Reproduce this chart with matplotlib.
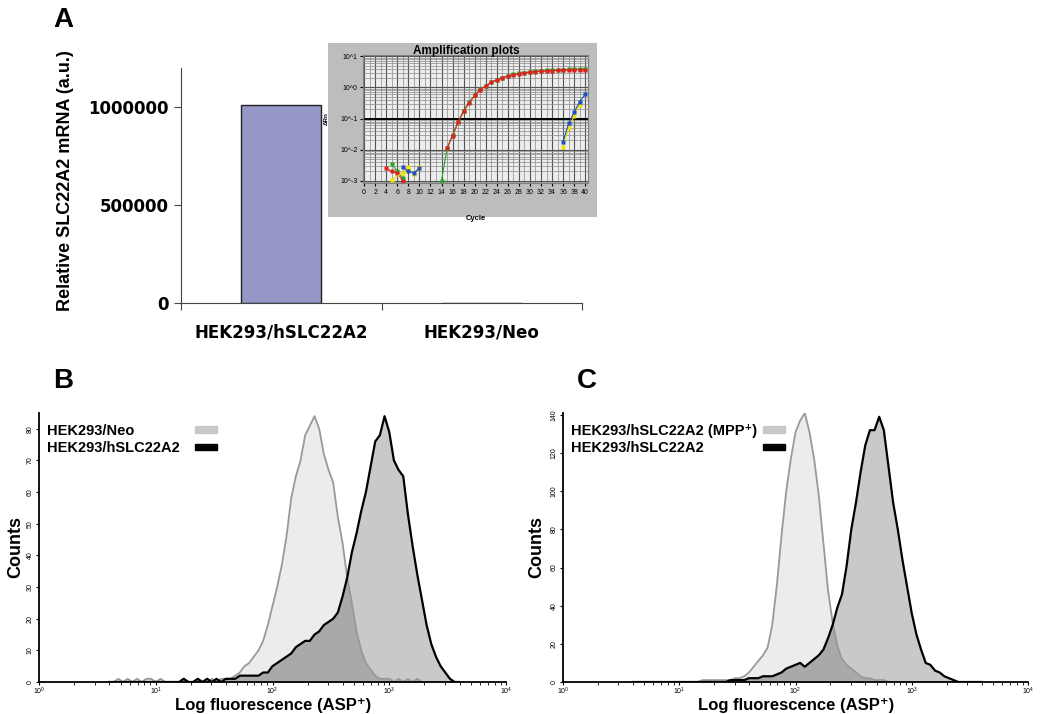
import numpy as np
import matplotlib.pyplot as plt
from matplotlib.patches import Rectangle
from matplotlib.ticker import FixedLocator, NullFormatter, LogLocator

plt.rcParams['font.family'] = ['Liberation Sans', 'DejaVu Sans']

# ---------------- data ----------------
# panel A: relative mRNA
cell_lines = ['HEK293/hSLC22A2', 'HEK293/Neo']
mrna_level = [1010000, 0]

# inset: amplification plot (cycle, delta Rn)
red_early_cyc = [4, 5, 6, 7]
red_early_val = [0.0025, 0.0020, 0.0018, 0.0010]
green_early_cyc = [5, 6, 7]
green_early_val = [0.0035, 0.0020, 0.00125]
yellow_early_cyc = [5, 7, 8, 9, 10]
yellow_early_val = [0.0011, 0.0018, 0.0028, 0.0016, 0.0028]
blue_early_cyc = [7, 8, 9, 10]
blue_early_val = [0.0028, 0.0020, 0.0018, 0.0025]

red_cyc = list(range(15, 41))
red_val = [0.011, 0.028, 0.075, 0.17, 0.32, 0.55, 0.85, 1.12, 1.45, 1.75, 2.05,
           2.3, 2.55, 2.75, 2.95, 3.1, 3.2, 3.3, 3.35, 3.45, 3.5, 3.55, 3.6,
           3.65, 3.7, 3.7]
green_cyc = list(range(14, 41))
green_val = [0.001, 0.011, 0.03, 0.078, 0.18, 0.33, 0.56, 0.86, 1.13, 1.46, 1.77,
             2.07, 2.33, 2.6, 2.8, 3.0, 3.15, 3.3, 3.4, 3.5, 3.6, 3.7, 3.75, 3.8,
             3.85, 3.9, 3.9]
blue_late_cyc = [36, 37, 38, 39, 40]
blue_late_val = [0.018, 0.07, 0.16, 0.35, 0.6]
yellow_late_cyc = [36, 37, 38, 39]
yellow_late_val = [0.012, 0.05, 0.12, 0.28]

# flow cytometry histograms, channels on log10 scale 0.60 .. 3.60 (step 0.04)
log_channels = np.round(np.arange(0.60, 3.6001, 0.04), 2)

neo_counts_b = [0, 0, 1, 0, 1, 0, 1, 0, 1, 1,
                0, 1, 0, 0, 0, 0, 1, 0, 0, 1,
                0, 0, 1, 0, 1, 1, 1, 2, 3, 5,
                6, 8, 10, 13, 18, 24, 30, 37, 46, 58,
                65, 70, 78, 81, 84, 80, 72, 67, 63, 52,
                44, 33, 25, 16, 10, 6, 4, 2, 1, 1,
                1, 0, 1, 0, 1, 0, 1, 0, 0, 0,
                0, 0, 0, 0, 0, 0]
slc_counts_b = [0, 0, 0, 0, 0, 0, 0, 0, 0, 0,
                0, 0, 0, 0, 0, 0, 1, 0, 0, 1,
                0, 1, 0, 1, 0, 1, 1, 1, 2, 2,
                2, 2, 2, 3, 3, 5, 6, 7, 8, 9,
                11, 12, 13, 13, 15, 16, 18, 19, 20, 22,
                27, 33, 41, 47, 54, 60, 68, 76, 78, 84,
                79, 70, 67, 65, 53, 43, 34, 26, 18, 12,
                8, 5, 3, 1, 0, 0]

mpp_counts_c = [0, 0, 0, 0, 0, 0, 0, 0, 0, 0,
                0, 0, 0, 0, 0, 1, 1, 1, 1, 1,
                1, 1, 2, 2, 3, 5, 8, 11, 14, 18,
                30, 51, 77, 100, 117, 131, 137, 141, 131, 117,
                98, 73, 48, 31, 19, 12, 9, 7, 5, 3,
                2, 2, 1, 1, 1, 0, 0, 0, 0, 0,
                0, 0, 0, 0, 0, 0, 0, 0, 0, 0,
                0, 0, 0, 0, 0, 0]
slc_counts_c = [0, 0, 0, 0, 0, 0, 0, 0, 0, 0,
                0, 0, 0, 0, 0, 0, 0, 0, 0, 0,
                0, 1, 1, 1, 1, 2, 2, 2, 3, 3,
                3, 4, 5, 7, 8, 9, 10, 8, 10, 12,
                14, 17, 23, 30, 39, 46, 61, 80, 94, 110,
                124, 132, 132, 139, 132, 113, 94, 80, 64, 50,
                36, 25, 17, 10, 9, 6, 5, 3, 2, 1,
                0, 0, 0, 0, 0, 0]

W, H = 1040, 714
fig = plt.figure(figsize=(W / 100, H / 100), dpi=100)


def fbox(x0, y0, x1, y1):
    # pixel box -> figure fraction [left, bottom, width, height]
    return [x0 / W, 1 - y1 / H, (x1 - x0) / W, (y1 - y0) / H]


# ---------------- panel A ----------------
axA = fig.add_axes(fbox(181, 68, 582, 303))
axA.bar(range(len(cell_lines)), mrna_level, width=0.4, color='#9597c6',
        edgecolor='#222222', linewidth=1.0)
axA.set_xlim(-0.5, 1.5)
axA.set_ylim(0, 1200000)
axA.set_yticks([0, 500000, 1000000])
axA.set_yticklabels(['0', '500000', '1000000'], family='DejaVu Sans',
                    fontweight='bold', fontsize=12)
axA.set_xticks([-0.5, 0.5, 1.5])
axA.set_xticklabels([])
axA.set_xticks([0, 1], minor=True)
axA.set_xticklabels(cell_lines, minor=True, family='DejaVu Sans',
                    fontweight='bold', fontsize=12)
axA.tick_params(axis='x', which='minor', length=0, pad=15)
axA.tick_params(axis='x', which='major', length=5, color='#444444')
axA.tick_params(axis='y', length=5, color='#444444', pad=4)
for s in ['top', 'right']:
    axA.spines[s].set_visible(False)
for s in ['left', 'bottom']:
    axA.spines[s].set_color('#444444')
fig.text(66 / W, 1 - 181 / H, 'Relative SLC22A2 mRNA (a.u.)', rotation=90,
         ha='center', va='center', fontsize=13, fontweight='bold')

# inset amplification plot
axF = fig.add_axes(fbox(328, 43, 597, 217))
axF.set_facecolor('#bdbdbd')
axF.set_xticks([])
axF.set_yticks([])
for s in axF.spines.values():
    s.set_visible(False)

axI = fig.add_axes(fbox(363, 55, 588, 183))
axI.set_facecolor('#ededed')
axI.set_yscale('log')
axI.set_xlim(-0.2, 40.5)
axI.set_ylim(8.5e-4, 11)
axI.set_xticks(range(0, 41, 2))
axI.set_xticks(range(0, 41), minor=True)
axI.yaxis.set_major_locator(FixedLocator([1e-3, 1e-2, 1e-1, 1, 10]))
axI.yaxis.set_minor_locator(LogLocator(subs=np.arange(2, 10)))
axI.yaxis.set_minor_formatter(NullFormatter())
axI.set_yticklabels(['10^-3', '10^-2', '10^-1', '10^0', '10^1'])
axI.tick_params(labelsize=5, length=2, pad=2)
axI.tick_params(which='minor', length=0)
axI.grid(True, which='major', color='#555555', linewidth=0.8)
axI.grid(True, which='minor', color='#8a8a8a', linewidth=0.5)
for s in axI.spines.values():
    s.set_color('#808080')
axI.axhline(0.1, color='black', linewidth=1.4)

mk = dict(marker='s', markersize=3.5, linewidth=0.8)
axI.plot(green_cyc, green_val, color='#22aa22', markeredgecolor='none', **mk)
axI.plot(red_cyc, red_val, color='#dd2020', markeredgecolor='none', **mk)
axI.plot(green_early_cyc, green_early_val, color='#22aa22', markeredgecolor='none', **mk)
axI.plot(red_early_cyc, red_early_val, color='#dd2020', markeredgecolor='none', **mk)
axI.plot(yellow_early_cyc, yellow_early_val, color='#f2e200', markeredgecolor='none', **mk)
axI.plot(blue_early_cyc, blue_early_val, color='#2050c0', markeredgecolor='none', **mk)
axI.plot(yellow_late_cyc, yellow_late_val, color='#f2e200', markeredgecolor='none', **mk)
axI.plot(blue_late_cyc, blue_late_val, color='#2050c0', markeredgecolor='none', **mk)
axI.set_xlabel('Cycle', fontsize=5.5, fontweight='bold', labelpad=14)
axI.set_ylabel('ΔRn', fontsize=4.5, fontweight='bold', labelpad=8)
fig.text(466 / W, 1 - 51 / H, 'Amplification plots', ha='center', va='center',
         fontsize=8.5, fontweight='bold')


# ---------------- panels B and C ----------------
def flow_panel(box, light, dark, ymax, ystep, labels, lx, counts_x):
    ax = fig.add_axes(fbox(*box))
    x = 10 ** log_channels
    light = np.array(light)
    dark = np.array(dark)
    ax.fill_between(x, light, color='#ececec', linewidth=0)
    ax.fill_between(x, dark, color='#c9c9c9', linewidth=0)
    ax.fill_between(x, np.minimum(light, dark), color='#a9a9a9', linewidth=0)
    ax.plot(x, light, color='#999999', linewidth=1.3)
    ax.plot(x, dark, color='black', linewidth=1.6)
    ax.set_xscale('log')
    ax.set_xlim(1, 1e4)
    ax.set_ylim(0, ymax)
    ax.set_yticks(np.arange(0, ymax, ystep))
    for lab in ax.get_yticklabels():
        lab.set_rotation(90)
        lab.set_va('center')
    ax.tick_params(labelsize=5, length=2.5, width=0.8, pad=0.5)
    ax.tick_params(axis='y', pad=1.5)
    ax.tick_params(axis='x', which='minor', length=1.8, width=0.6)
    for s in ['top', 'right']:
        ax.spines[s].set_visible(False)
    for s in ['left', 'bottom']:
        ax.spines[s].set_linewidth(1.3)
    # legend
    fx0 = box[0]
    fig.text((fx0 + 8) / W, 1 - 431 / H, labels[0], fontsize=10.5,
             fontweight='bold', va='center')
    fig.text((fx0 + 8) / W, 1 - 448 / H, labels[1], fontsize=10.5,
             fontweight='bold', va='center')
    fig.add_artist(Rectangle(((lx) / W, 1 - 433 / H), 22 / W, 7 / H,
                             transform=fig.transFigure, color='#c8c8c8'))
    fig.add_artist(Rectangle(((lx) / W, 1 - 450 / H), 22 / W, 6 / H,
                             transform=fig.transFigure, color='black'))
    fig.text(counts_x / W, 1 - 547 / H, 'Counts', rotation=90, ha='center',
             va='center', fontsize=13, fontweight='bold')
    cx = (box[0] + box[2]) / 2 + 1
    fig.text(cx / W, 1 - 710 / H, 'Log fluorescence (ASP⁺)', ha='center',
             va='baseline', fontsize=12, fontweight='bold')
    return ax


flow_panel((39, 413, 506, 682), neo_counts_b, slc_counts_b, 85, 10,
           ['HEK293/Neo', 'HEK293/hSLC22A2'], 195, 16)
flow_panel((563, 413, 1028, 682), mpp_counts_c, slc_counts_c, 141, 20,
           ['HEK293/hSLC22A2 (MPP⁺)', 'HEK293/hSLC22A2'], 763, 537)

# panel letters
for letter, px, py in [('A', 63, 20), ('B', 63, 381), ('C', 587, 381)]:
    fig.text(px / W, 1 - py / H, letter, ha='center', va='center',
             fontsize=20, fontweight='bold')

fig.savefig('out.png', dpi=100)
